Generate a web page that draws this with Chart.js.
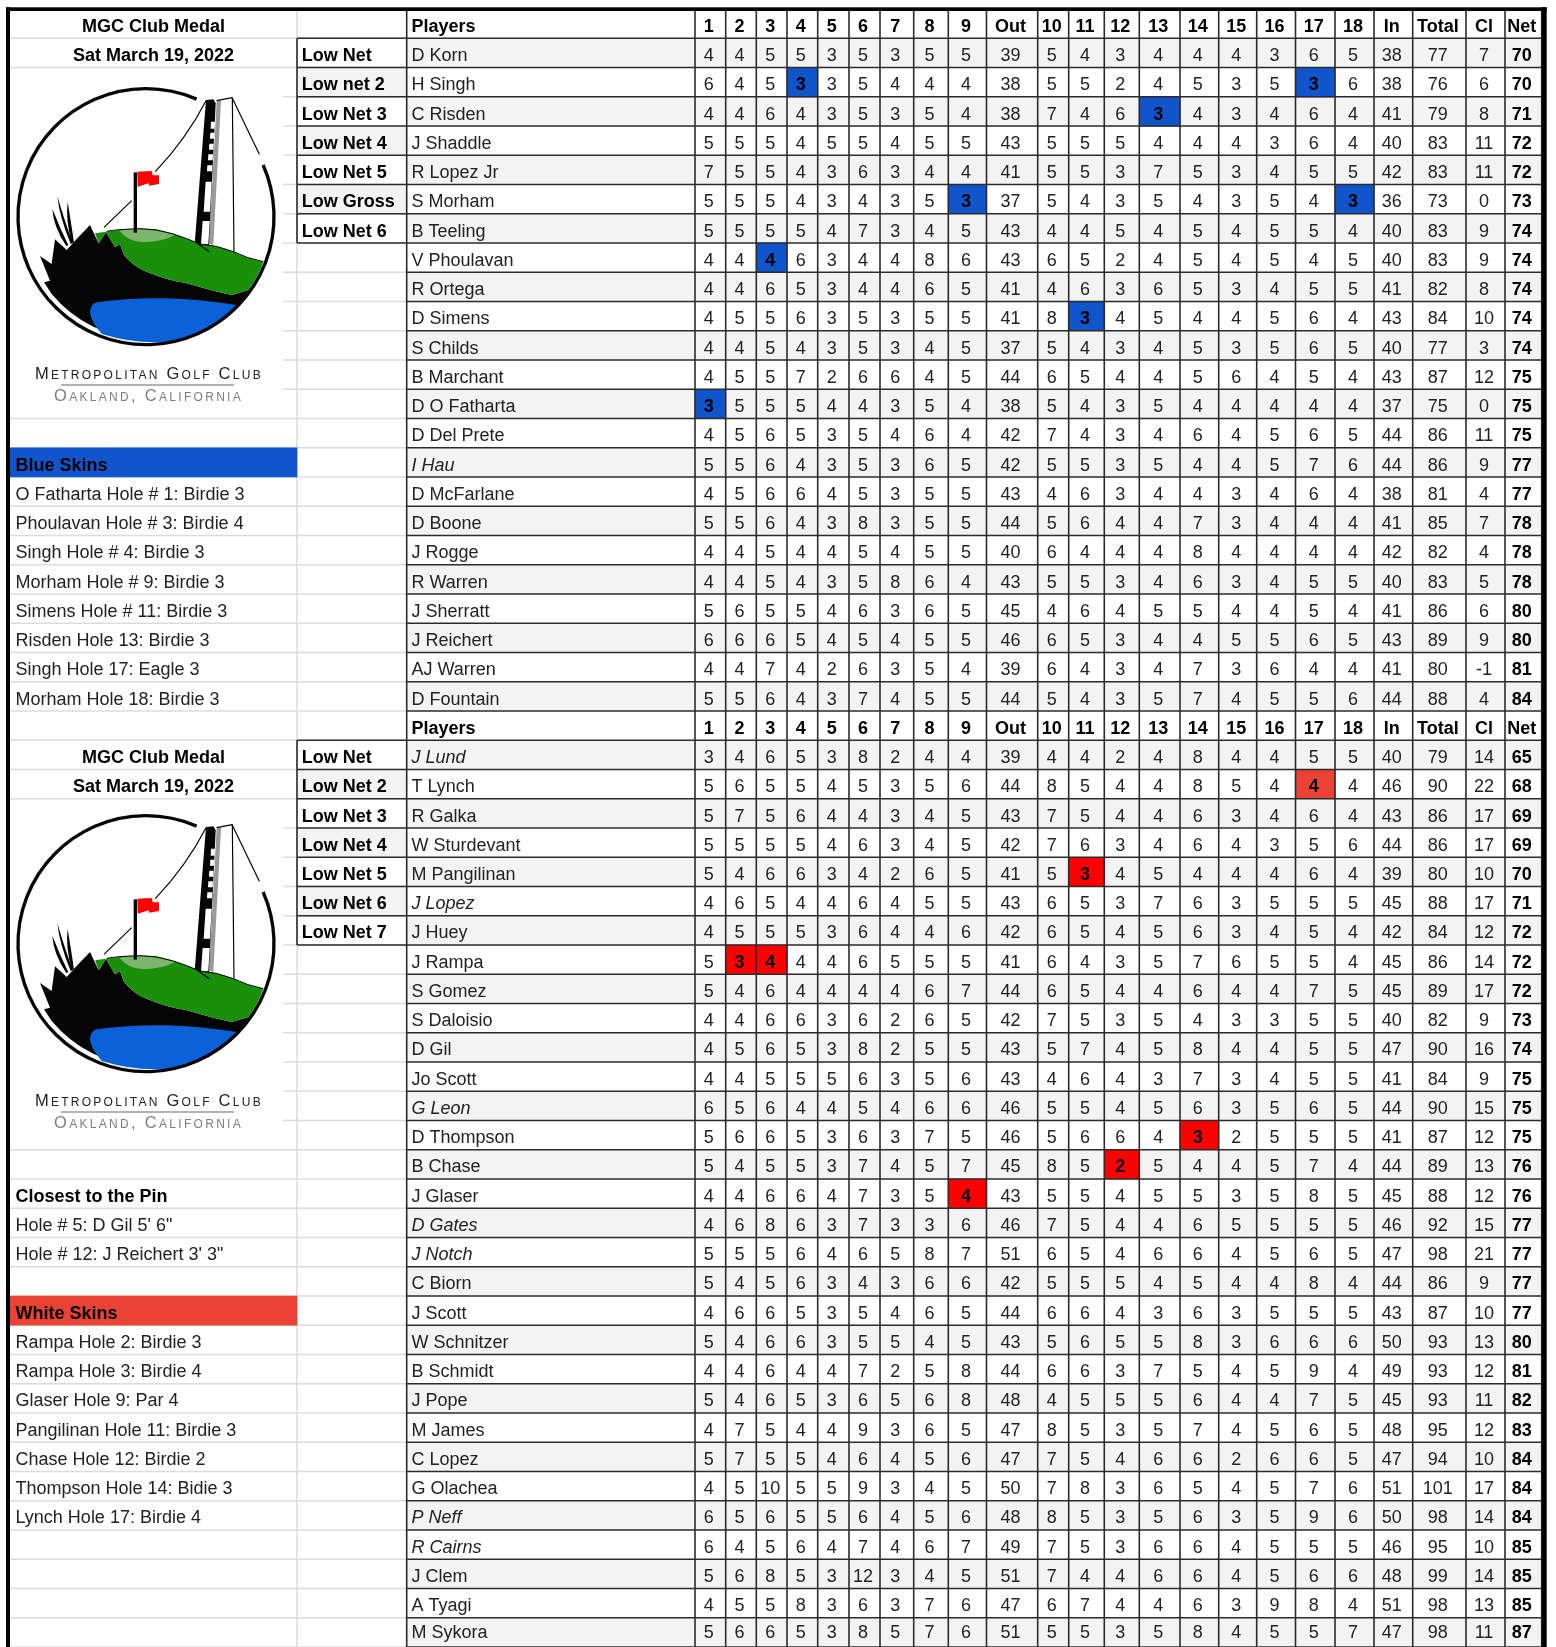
<!DOCTYPE html>
<html><head><meta charset="utf-8">
<style>html,body{margin:0;padding:0;background:#fff}canvas{display:block}</style>
<script src="https://cdn.jsdelivr.net/npm/chart.js@4"></script>
</head><body><canvas id="c" width="1556" height="1647"></canvas>
<script>
// ---------- data ----------
const columnLabels = ['1','2','3','4','5','6','7','8','9','Out','10','11','12','13','14','15','16','17','18','In','Total','Cl','Net'];
const topPlayers = ['D Korn','H Singh','C Risden','J Shaddle','R Lopez Jr','S Morham','B Teeling','V Phoulavan','R Ortega','D Simens','S Childs','B Marchant','D O Fatharta','D Del Prete','I Hau','D McFarlane','D Boone','J Rogge','R Warren','J Sherratt','J Reichert','AJ Warren','D Fountain'];
const topScores = [
[4,4,5,5,3,5,3,5,5,39,5,4,3,4,4,4,3,6,5,38,77,7,70],
[6,4,5,3,3,5,4,4,4,38,5,5,2,4,5,3,5,3,6,38,76,6,70],
[4,4,6,4,3,5,3,5,4,38,7,4,6,3,4,3,4,6,4,41,79,8,71],
[5,5,5,4,5,5,4,5,5,43,5,5,5,4,4,4,3,6,4,40,83,11,72],
[7,5,5,4,3,6,3,4,4,41,5,5,3,7,5,3,4,5,5,42,83,11,72],
[5,5,5,4,3,4,3,5,3,37,5,4,3,5,4,3,5,4,3,36,73,0,73],
[5,5,5,5,4,7,3,4,5,43,4,4,5,4,5,4,5,5,4,40,83,9,74],
[4,4,4,6,3,4,4,8,6,43,6,5,2,4,5,4,5,4,5,40,83,9,74],
[4,4,6,5,3,4,4,6,5,41,4,6,3,6,5,3,4,5,5,41,82,8,74],
[4,5,5,6,3,5,3,5,5,41,8,3,4,5,4,4,5,6,4,43,84,10,74],
[4,4,5,4,3,5,3,4,5,37,5,4,3,4,5,3,5,6,5,40,77,3,74],
[4,5,5,7,2,6,6,4,5,44,6,5,4,4,5,6,4,5,4,43,87,12,75],
[3,5,5,5,4,4,3,5,4,38,5,4,3,5,4,4,4,4,4,37,75,0,75],
[4,5,6,5,3,5,4,6,4,42,7,4,3,4,6,4,5,6,5,44,86,11,75],
[5,5,6,4,3,5,3,6,5,42,5,5,3,5,4,4,5,7,6,44,86,9,77],
[4,5,6,6,4,5,3,5,5,43,4,6,3,4,4,3,4,6,4,38,81,4,77],
[5,5,6,4,3,8,3,5,5,44,5,6,4,4,7,3,4,4,4,41,85,7,78],
[4,4,5,4,4,5,4,5,5,40,6,4,4,4,8,4,4,4,4,42,82,4,78],
[4,4,5,4,3,5,8,6,4,43,5,5,3,4,6,3,4,5,5,40,83,5,78],
[5,6,5,5,4,6,3,6,5,45,4,6,4,5,5,4,4,5,4,41,86,6,80],
[6,6,6,5,4,5,4,5,5,46,6,5,3,4,4,5,5,6,5,43,89,9,80],
[4,4,7,4,2,6,3,5,4,39,6,4,3,4,7,3,6,4,4,41,80,-1,81],
[5,5,6,4,3,7,4,5,5,44,5,4,3,5,7,4,5,5,6,44,88,4,84]];
const bottomPlayers = ['J Lund','T Lynch','R Galka','W Sturdevant','M Pangilinan','J Lopez','J Huey','J Rampa','S Gomez','S Daloisio','D Gil','Jo Scott','G Leon','D Thompson','B Chase','J Glaser','D Gates','J Notch','C Biorn','J Scott','W Schnitzer','B Schmidt','J Pope','M James','C Lopez','G Olachea','P Neff','R Cairns','J Clem','A Tyagi','M Sykora'];
const bottomScores = [
[3,4,6,5,3,8,2,4,4,39,4,4,2,4,8,4,4,5,5,40,79,14,65],
[5,6,5,5,4,5,3,5,6,44,8,5,4,4,8,5,4,4,4,46,90,22,68],
[5,7,5,6,4,4,3,4,5,43,7,5,4,4,6,3,4,6,4,43,86,17,69],
[5,5,5,5,4,6,3,4,5,42,7,6,3,4,6,4,3,5,6,44,86,17,69],
[5,4,6,6,3,4,2,6,5,41,5,3,4,5,4,4,4,6,4,39,80,10,70],
[4,6,5,4,4,6,4,5,5,43,6,5,3,7,6,3,5,5,5,45,88,17,71],
[4,5,5,5,3,6,4,4,6,42,6,5,4,5,6,3,4,5,4,42,84,12,72],
[5,3,4,4,4,6,5,5,5,41,6,4,3,5,7,6,5,5,4,45,86,14,72],
[5,4,6,4,4,4,4,6,7,44,6,5,4,4,6,4,4,7,5,45,89,17,72],
[4,4,6,6,3,6,2,6,5,42,7,5,3,5,4,3,3,5,5,40,82,9,73],
[4,5,6,5,3,8,2,5,5,43,5,7,4,5,8,4,4,5,5,47,90,16,74],
[4,4,5,5,5,6,3,5,6,43,4,6,4,3,7,3,4,5,5,41,84,9,75],
[6,5,6,4,4,5,4,6,6,46,5,5,4,5,6,3,5,6,5,44,90,15,75],
[5,6,6,5,3,6,3,7,5,46,5,6,6,4,3,2,5,5,5,41,87,12,75],
[5,4,5,5,3,7,4,5,7,45,8,5,2,5,4,4,5,7,4,44,89,13,76],
[4,4,6,6,4,7,3,5,4,43,5,5,4,5,5,3,5,8,5,45,88,12,76],
[4,6,8,6,3,7,3,3,6,46,7,5,4,4,6,5,5,5,5,46,92,15,77],
[5,5,5,6,4,6,5,8,7,51,6,5,4,6,6,4,5,6,5,47,98,21,77],
[5,4,5,6,3,4,3,6,6,42,5,5,5,4,5,4,4,8,4,44,86,9,77],
[4,6,6,5,3,5,4,6,5,44,6,6,4,3,6,3,5,5,5,43,87,10,77],
[5,4,6,6,3,5,5,4,5,43,5,6,5,5,8,3,6,6,6,50,93,13,80],
[4,4,6,4,4,7,2,5,8,44,6,6,3,7,5,4,5,9,4,49,93,12,81],
[5,4,6,5,3,6,5,6,8,48,4,5,5,5,6,4,4,7,5,45,93,11,82],
[4,7,5,4,4,9,3,6,5,47,8,5,3,5,7,4,5,6,5,48,95,12,83],
[5,7,5,5,4,6,4,5,6,47,7,5,4,6,6,2,6,6,5,47,94,10,84],
[4,5,10,5,5,9,3,4,5,50,7,8,3,6,5,4,5,7,6,51,101,17,84],
[6,5,6,5,5,6,4,5,6,48,8,5,3,5,6,3,5,9,6,50,98,14,84],
[6,4,5,6,4,7,4,6,7,49,7,5,3,6,6,4,5,5,5,46,95,10,85],
[5,6,8,5,3,12,3,4,5,51,7,4,4,6,6,4,5,6,6,48,99,14,85],
[4,5,5,8,3,6,3,7,6,47,6,7,4,4,6,3,9,8,4,51,98,13,85],
[5,6,6,5,3,8,5,7,6,51,5,5,3,5,8,4,5,5,7,47,98,11,87]];
const italicPlayers = ['I Hau','J Lund','J Lopez','G Leon','D Gates','J Notch','P Neff','R Cairns'];
const topPrizes = ['Low Net','Low net 2','Low Net 3','Low Net 4','Low Net 5','Low Gross','Low Net 6'];
const bottomPrizes = ['Low Net','Low Net 2','Low Net 3','Low Net 4','Low Net 5','Low Net 6','Low Net 7'];
// [player, column label] of every skin
const blueSkins = [['D O Fatharta','1'],['V Phoulavan','3'],['H Singh','4'],['S Morham','9'],['D Simens','11'],['C Risden','13'],['H Singh','17'],['S Morham','18']];
const whiteSkins = [['J Rampa','2'],['J Rampa','3'],['J Glaser','9'],['M Pangilinan','11'],['B Chase','12'],['D Thompson','14']];
const lynchSkin = [['T Lynch','17']];
const medalTitle = ['MGC Club Medal','Sat March 19, 2022'];
const blueSkinNotes = ['O Fatharta Hole # 1: Birdie 3','Phoulavan Hole # 3: Birdie 4','Singh Hole # 4: Birdie 3','Morham Hole # 9: Birdie 3','Simens Hole # 11: Birdie 3','Risden Hole 13: Birdie 3','Singh Hole 17: Eagle 3','Morham Hole 18: Birdie 3'];
const pinNotes = ['Hole # 5: D Gil 5\' 6"','Hole # 12: J Reichert 3\' 3"'];
const whiteSkinNotes = ['Rampa Hole 2: Birdie 3','Rampa Hole 3: Birdie 4','Glaser Hole 9: Par 4','Pangilinan Hole 11: Birdie 3','Chase Hole 12: Birdie 2','Thompson Hole 14: Bidie 3','Lynch Hole 17: Birdie 4'];

// ---------- layout ----------
const columnEdges = [695,725.7,756.3,787,817.7,849,880,913.7,948.3,986.5,1037.7,1068.7,1104.3,1139.3,1180,1218.7,1256.7,1295.5,1335,1374,1412.7,1466,1505,1541.7];
const X = {panelL:10, panelR:297, logoR:283, prizeR:406.7, panelText:15.5, prizeText:301.7, playerText:411.5, tableR:1541.7};
const TOP_ROW = 1, HEADER2 = 24, BOTTOM_ROW = 25, LAST = 55;
const FONT = '"Liberation Sans", Arial, sans-serif';
const GREY='#f3f3f3', BLUE='#1155cc', RED='#ff0000', SOFTRED='#ea4335', INK='#222', DARK='#2b2b2b', LIGHT='#dcdcdc';

const rowOf = {};
topPlayers.forEach((p,i)=>rowOf[p]=TOP_ROW+i);
bottomPlayers.forEach((p,i)=>{rowOf[p]=BOTTOM_ROW+i;});
const colCenter = i => (columnEdges[i]+columnEdges[i+1])/2 - 1.5;
const colSpan = label => { const i=columnLabels.indexOf(label); return [columnEdges[i],columnEdges[i+1]]; };
const skinBars = list => list.map(([p,c])=>({y:rowOf[p]+0.5,x:colSpan(c)}));
const skinKeys = new Set([...blueSkins,...whiteSkins,...lynchSkin].map(([p,c])=>p+'|'+c));

// ---------- text items, placed through the scales ----------
const texts = [];
const put = (x,row,text,o={}) => texts.push({x,y:row+0.5,row,text,weight:o.bold?'bold ':'',style:o.italic?'italic ':'',align:o.align||'left',color:o.bold?'#000':INK});
[0,HEADER2].forEach(r=>{
  put(X.playerText,r,'Players',{bold:true});
  columnLabels.forEach((l,i)=>put(colCenter(i),r,l,{bold:true,align:'center'}));
});
function addTable(players,scores,start,prizes){
  players.forEach((p,i)=>{
    const r=start+i;
    put(X.playerText,r,p,{italic:italicPlayers.includes(p)});
    scores[i].forEach((v,c)=>{
      const skin=skinKeys.has(p+'|'+columnLabels[c]);
      put(colCenter(c),r,String(v),{bold:skin||c===22,align:'center'});
    });
  });
  prizes.forEach((p,i)=>put(X.prizeText,start+i,p,{bold:true}));
}
addTable(topPlayers,topScores,TOP_ROW,topPrizes);
addTable(bottomPlayers,bottomScores,BOTTOM_ROW,bottomPrizes);
const midPanel=(X.panelL+X.panelR)/2;
[0,BOTTOM_ROW].forEach(r=>medalTitle.forEach((t,i)=>put(midPanel,r+i,t,{bold:true,align:'center'})));
put(X.panelText,15,'Blue Skins',{bold:true});
blueSkinNotes.forEach((t,i)=>put(X.panelText,16+i,t));
put(X.panelText,40,'Closest to the Pin',{bold:true});
pinNotes.forEach((t,i)=>put(X.panelText,41+i,t));
put(X.panelText,44,'White Skins',{bold:true});
whiteSkinNotes.forEach((t,i)=>put(X.panelText,45+i,t));

// ---------- bars ----------
const stripeRows=[];
for(let r=1;r<=LAST;r+=2) if(r!==HEADER2) stripeRows.push({y:r+0.5,x:[X.prizeR,X.tableR]});
[2,4,6,26,28,30].forEach(r=>stripeRows.push({y:r+0.5,x:[X.panelR,X.prizeR]}));
const barCommon={type:'bar',indexAxis:'y',grouped:false,categoryPercentage:1,barPercentage:1,borderWidth:0,borderSkipped:false};

// ---------- logo ----------
function drawLogo(ctx,dy){
  ctx.save();
  ctx.translate(0,70+dy); ctx.scale(1/3,1/3);
  const fill=(d,c)=>{ctx.fillStyle=c;ctx.fill(new Path2D(d));};
  const line=(d,w,c='#000')=>{ctx.strokeStyle=c;ctx.lineWidth=w;ctx.lineCap='butt';ctx.lineJoin='round';ctx.stroke(new Path2D(d));};
  // tower
  fill('M650 92 L697 83 L702 545 L628 525 Z','#fff');
  fill('M650 92 L663 92 L640 525 L627 522 Z','#9a9a9a');
  fill('M618 90 L640 88 L647 100 L627 525 L584 522 Z','#050505');
  ['M633 155 L645 155 L644 176 L632 176Z','M631 188 L643 188 L642 206 L630 206Z','M628 221 L641 221 L640 239 L627 239Z','M625 253 L639 253 L638 271 L624 271Z','M622 286 L637 286 L636 304 L621 304Z','M617 335 L635 335 L630 425 L611 425Z','M608 453 L629 453 L625 522 L603 522Z'].forEach(d=>fill(d,'#fff'));
  line('M650 92 L697 83 L702 545',3.5);
  line('M697 85 L778 253',3.5);
  line('M466 305 Q560 205 618 92',3.5);
  line('M312 472 L395 392',3.5);
  // land
  fill('M120 558 L155 582 L165 508 L200 540 L232 505 L270 465 L296 520 L318 486 L345 532 L360 522 L372 555 Q400 590 440 605 Q500 630 560 640 L640 662 L695 675 L745 660 L790 600 L715 705 A385 385 0 0 1 155 672 L132 637 L150 632 Z','#050505');
  fill('M285 490 L296 520 L318 486 L345 532 L360 522 L372 555 Q400 590 440 605 Q500 630 560 640 L640 662 L695 675 L745 660 Q775 620 790 575 Q740 565 700 545 Q650 525 600 522 Q560 505 520 492 Q470 475 420 476 Q350 478 285 490 Z','#1a8f0a');
  fill('M358 482 Q440 470 525 495 Q490 515 430 517 Q385 515 358 482Z','#7db56e');
  line('M320 484 Q350 478 420 476 Q470 475 520 492 Q560 505 600 522 Q650 525 700 545 Q740 565 790 575',3);
  line('M590 518 L628 545',3.5);
  fill('M290 697 Q400 682 500 685 Q620 690 710 705 Q640 780 540 810 Q430 830 305 792 Q270 750 270 725 Q272 703 290 697 Z','#0b62d8');
  // reeds
  ['M172 378 Q190 440 218 520 L212 522 Q178 440 172 378Z','M157 416 Q178 470 205 526 L199 528 Q160 470 157 416Z','M203 396 Q212 450 222 518 L215 518 Q196 450 203 396Z'].forEach(d=>fill(d,'#050505'));
  // flag
  fill('M401 307 L411 307 L411 488 L401 488 Z','#050505');
  fill('M412 305 L455 303 L458 316 L477 316 L477 342 L448 347 L446 340 L413 350 Z','#ff0000');
  // ring
  ctx.beginPath(); ctx.strokeStyle='#050505'; ctx.lineWidth=10;
  ctx.arc(438,440,384,-23.8*Math.PI/180,(360-66.7)*Math.PI/180); ctx.stroke();
  ctx.restore();
  // caption
  ctx.save();
  const caption=(t,target,cx,y,size,color)=>{
    ctx.font='small-caps '+size+'px '+FONT; ctx.fillStyle=color; ctx.textAlign='left'; ctx.textBaseline='alphabetic';
    ctx.letterSpacing='0px';
    const w=ctx.measureText(t).width;
    ctx.letterSpacing=((target-w)/(t.length-1)).toFixed(3)+'px';
    ctx.fillText(t,cx-target/2,y+dy);
    ctx.letterSpacing='0px';
  };
  caption('Metropolitan Golf Club',225.7,147.8,379.3,16.5,'#222');
  caption('Oakland, California',186.7,147.4,401,16.5,'#7d7d7d');
  ctx.strokeStyle='#666';ctx.lineWidth=1;ctx.beginPath();ctx.moveTo(61,385+dy);ctx.lineTo(234,385+dy);ctx.stroke();
  ctx.restore();
}

// ---------- grid and text plugin ----------
const LOGO_DY = 727;
const sheet={
  id:'sheet',
  beforeDatasetsDraw(chart){
    const {ctx,scales:{x,y}}=chart;
    ctx.save(); ctx.strokeStyle=LIGHT; ctx.lineWidth=1.6;
    const seg=(a,b,c,d)=>{ctx.beginPath();ctx.moveTo(a,b);ctx.lineTo(c,d);ctx.stroke();};
    for(let r=1;r<=LAST+1;r++){
      const py=y.getPixelForValue(r);
      const hidden=(r>=3&&r<=13)||(r>=28&&r<=38);
      seg(x.getPixelForValue(hidden?X.logoR:X.panelL),py,x.getPixelForValue(X.prizeR),py);
    }
    seg(x.getPixelForValue(X.panelR),y.getPixelForValue(0),x.getPixelForValue(X.panelR),y.getPixelForValue(LAST+1));
    ctx.restore();
  },
  afterDatasetsDraw(chart){
    const {ctx,scales:{x,y}}=chart;
    ctx.save();
    drawLogo(ctx,0); drawLogo(ctx,LOGO_DY);
    ctx.strokeStyle=DARK; ctx.lineWidth=1.6;
    const seg=(a,b,c,d)=>{ctx.beginPath();ctx.moveTo(a,b);ctx.lineTo(c,d);ctx.stroke();};
    const bottom=y.getPixelForValue(LAST+1), top=y.getPixelForValue(0);
    columnEdges.concat([X.prizeR]).forEach(e=>seg(x.getPixelForValue(e),top,x.getPixelForValue(e),bottom));
    for(let r=1;r<=LAST+1;r++){const py=y.getPixelForValue(r);seg(x.getPixelForValue(X.prizeR),py,x.getPixelForValue(X.tableR),py);}
    // prize boxes
    [[TOP_ROW,topPrizes.length],[BOTTOM_ROW,bottomPrizes.length]].forEach(([s,n])=>{
      for(let r=s;r<=s+n;r++){const py=y.getPixelForValue(r);seg(x.getPixelForValue(X.panelR),py,x.getPixelForValue(X.prizeR),py);}
      seg(x.getPixelForValue(X.panelR),y.getPixelForValue(s),x.getPixelForValue(X.panelR),y.getPixelForValue(s+n));
    });
    // outer frame
    ctx.fillStyle='#000';
    ctx.fillRect(6,7.3,1540.7,3.7);
    ctx.fillRect(6,7.3,4,1640);
    ctx.fillRect(1541.7,7.3,5,1640);
    // text
    const meta=chart.getDatasetMeta(chart.data.datasets.findIndex(d=>d.label==='cells'));
    ctx.textBaseline='alphabetic';
    texts.forEach((t,i)=>{
      const p=meta.data[i];
      ctx.font=t.style+t.weight+'18px '+FONT;
      ctx.fillStyle=t.color; ctx.textAlign=t.align;
      ctx.fillText(t.text,p.x,p.y+(t.row===LAST?5.7:8.1));
    });
    ctx.restore();
  }
};

new Chart(document.getElementById('c'),{
  type:'scatter',
  data:{datasets:[
    {label:'cells',type:'scatter',indexAxis:'x',data:texts.map(t=>({x:t.x,y:t.y})),pointRadius:0,showLine:false,order:0},
    {...barCommon,label:'Blue skins',data:skinBars(blueSkins),backgroundColor:BLUE,order:1},
    {...barCommon,label:'White skins',data:skinBars(whiteSkins),backgroundColor:RED,order:1},
    {...barCommon,label:'Lynch skin',data:skinBars(lynchSkin),backgroundColor:SOFTRED,order:1},
    {...barCommon,label:'Panel headers blue',data:[{y:15.5,x:[X.panelL,X.panelR]}],backgroundColor:BLUE,order:1},
    {...barCommon,label:'Panel headers red',data:[{y:44.5,x:[X.panelL,X.panelR]}],backgroundColor:SOFTRED,order:1},
    {...barCommon,label:'Stripes',data:stripeRows,backgroundColor:GREY,order:5}
  ]},
  options:{
    responsive:false,animation:false,devicePixelRatio:1,
    layout:{padding:0},
    plugins:{legend:{display:false},tooltip:{enabled:false},title:{display:false}},
    scales:{
      x:{type:'linear',min:0,max:1556,display:false,offset:false},
      y:{type:'linear',reverse:true,min:-0.3094,max:56,display:false,offset:false}
    }
  },
  plugins:[sheet]
});
</script></body></html>
